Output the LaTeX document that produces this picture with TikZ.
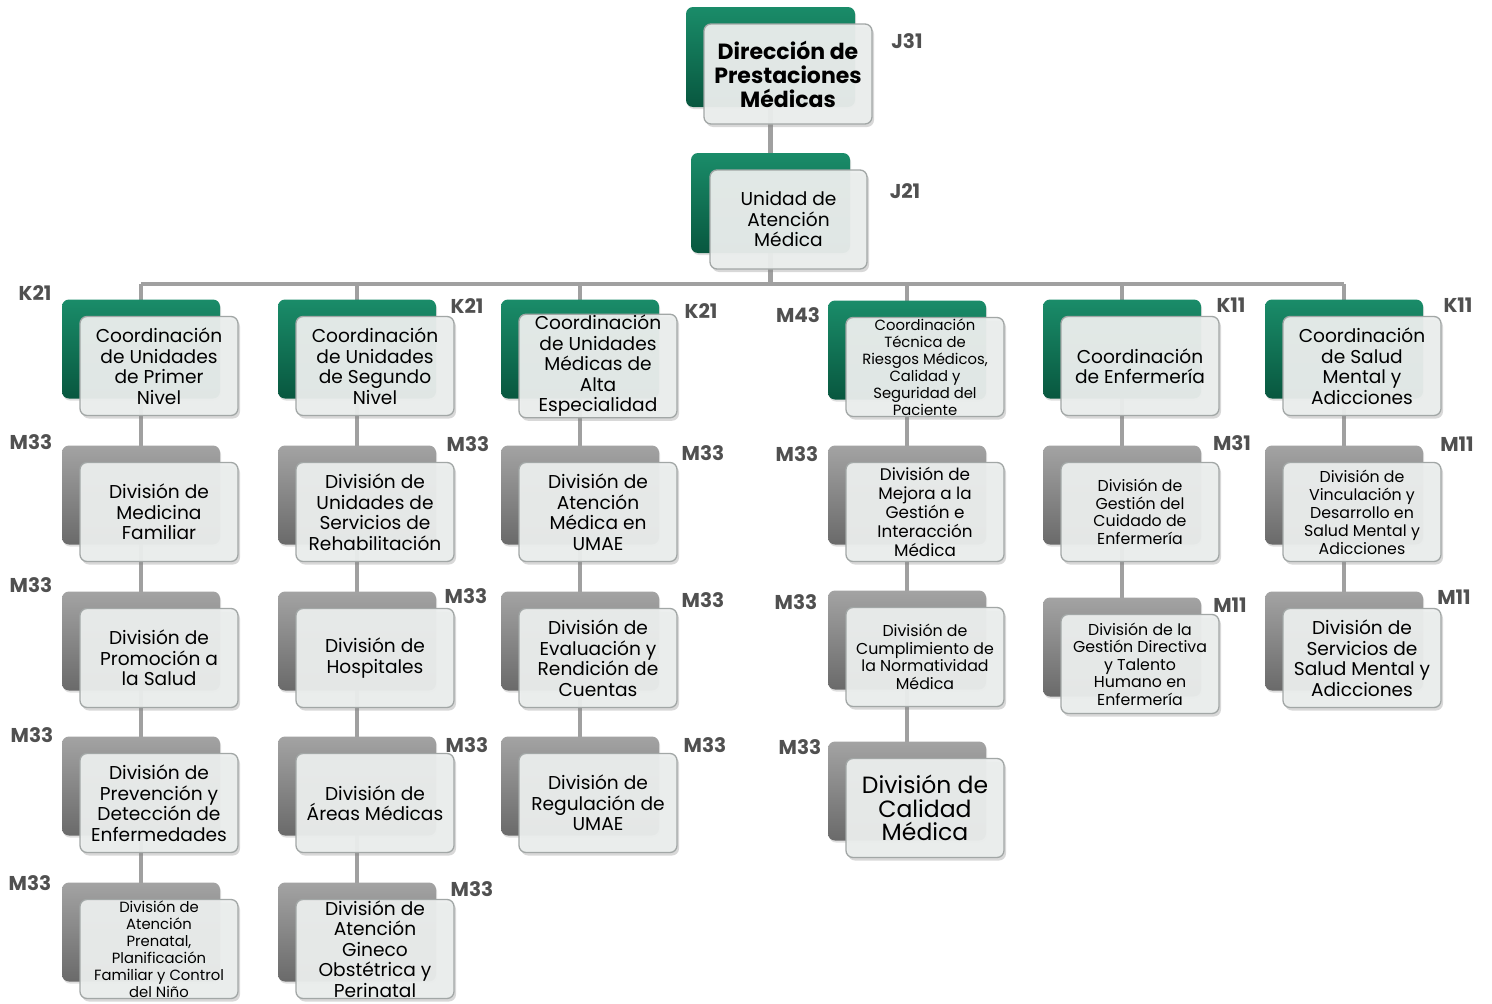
\documentclass[tikz,border=0pt]{standalone}
\usepackage{fontspec}
\setmainfont{Poppins}
\usetikzlibrary{shadows}
\pgfdeclarelayer{background}
\pgfsetlayers{background,main}
\definecolor{gA}{HTML}{1A8C69}
\definecolor{gB}{HTML}{08573F}
\definecolor{kA}{HTML}{A3A3A3}
\definecolor{kB}{HTML}{6A6A6A}
\definecolor{frontfill}{HTML}{ECEFEE}
\definecolor{fborder}{HTML}{A2A7A6}
\definecolor{conncol}{HTML}{A0A0A0}
\definecolor{lblcol}{HTML}{505050}
\tikzset{
  backgreen/.style={rounded corners=7pt, minimum width=158pt, minimum height=99pt, top color=gA, bottom color=gB, draw=none, inner sep=0pt,
     drop shadow={shadow xshift=1pt, shadow yshift=-2pt, opacity=0.25}},
  backgray/.style={rounded corners=7pt, minimum width=158pt, minimum height=99pt, top color=kA, bottom color=kB, draw=none, inner sep=0pt,
     drop shadow={shadow xshift=1pt, shadow yshift=-2pt, opacity=0.25}},
  frontbox/.style={rounded corners=7pt, minimum width=158pt, minimum height=99pt, fill=frontfill, fill opacity=0.94, text opacity=1,
     draw=fborder, line width=1.3pt, align=center, inner sep=1pt, text=black,
     drop shadow={shadow xshift=2pt, shadow yshift=-3pt, opacity=0.3}},
  conn/.style={draw=conncol, line width=4.5pt},
  lbl/.style={text=lblcol, font=\fontsize{20}{22}\selectfont\bfseries, inner sep=0pt},
}
\newcommand\orgbox[6]{%
  \node[#4] (#1b) at (#2,#3) {};
  \node[frontbox, font=#5] (#1) at ({#2+18},{#3+17}) {#6};
}
\newcommand\fA{\fontsize{18.6}{20.5}\selectfont}
\newcommand\fS{\fontsize{14.8}{17}\selectfont}
\newcommand\fM{\fontsize{15.8}{17.5}\selectfont}
\begin{document}
\begin{tikzpicture}[x=1pt,y=-1pt]
\useasboundingbox (0,0) rectangle (1492,1004);

% top
\node[backgreen, minimum width=169pt, minimum height=100pt] (j31b) at (770.5,57) {};
\node[frontbox, minimum width=168pt, minimum height=100pt, font=\fontsize{22}{24}\selectfont\bfseries] (j31) at (788,74) {Dirección de\\Prestaciones\\Médicas};
\node[backgreen, minimum width=159pt, minimum height=100pt] (j21b) at (770.5,203) {};
\node[frontbox, minimum width=157pt, minimum height=99pt, font=\fA] (j21) at (788.5,219.5) {Unidad de\\Atención\\Médica};

% column 1
\orgbox{c1}{141}{349}{backgreen}{\fA}{Coordinación\\de Unidades\\de Primer\\Nivel}
\orgbox{d11}{141}{495}{backgray}{\fA}{División de\\Medicina\\Familiar}
\orgbox{d12}{141}{641}{backgray}{\fA}{División de\\Promoción a\\la Salud}
\orgbox{d13}{141}{786}{backgray}{\fA}{División de\\Prevención y\\Detección de\\Enfermedades}
\orgbox{d14}{141}{932}{backgray}{\fS}{División de\\Atención\\Prenatal,\\Planificación\\Familiar y Control\\del Niño}

% column 2
\orgbox{c2}{357}{349}{backgreen}{\fA}{Coordinación\\de Unidades\\de Segundo\\Nivel}
\orgbox{d21}{357}{495}{backgray}{\fA}{División de\\Unidades de\\Servicios de\\Rehabilitación}
\orgbox{d22}{357}{641}{backgray}{\fA}{División de\\Hospitales}
\orgbox{d23}{357}{786}{backgray}{\fA}{División de\\Áreas Médicas}
\orgbox{d24}{357}{932}{backgray}{\fA}{División de\\Atención\\Gineco\\Obstétrica y\\Perinatal}

% column 3
\orgbox{c3}{580}{349}{backgreen}{\fA}{Coordinación\\de Unidades\\Médicas de\\Alta\\Especialidad}
\orgbox{d31}{580}{495}{backgray}{\fA}{División de\\Atención\\Médica en\\UMAE}
\orgbox{d32}{580}{641}{backgray}{\fA}{División de\\Evaluación y\\Rendición de\\Cuentas}
\orgbox{d33}{580}{786}{backgray}{\fA}{División de\\Regulación de\\UMAE}

% column 4
\orgbox{c4}{907}{350}{backgreen}{\fS}{Coordinación\\Técnica de\\Riesgos Médicos,\\Calidad y\\Seguridad del\\Paciente}
\orgbox{d41}{907}{495}{backgray}{\fontsize{16.8}{19}\selectfont}{División de\\Mejora a la\\Gestión e\\Interacción\\Médica}
\orgbox{d42}{907}{640}{backgray}{\fM}{División de\\Cumplimiento de\\la Normatividad\\Médica}
\orgbox{d43}{907}{791}{backgray}{\fontsize{23.5}{23.5}\selectfont}{División de\\Calidad\\Médica}

% column 5
\orgbox{c5}{1122}{349}{backgreen}{\fA}{Coordinación\\de Enfermería}
\orgbox{d51}{1122}{495}{backgray}{\fM}{División de\\Gestión del\\Cuidado de\\Enfermería}
\orgbox{d52}{1122}{647}{backgray}{\fM}{División de la\\Gestión Directiva\\y Talento\\Humano en\\Enfermería}

% column 6
\orgbox{c6}{1344}{349}{backgreen}{\fA}{Coordinación\\de Salud\\Mental y\\Adicciones}
\orgbox{d61}{1344}{495}{backgray}{\fontsize{15.8}{18}\selectfont}{División de\\Vinculación y\\Desarrollo en\\Salud Mental y\\Adicciones}
\orgbox{d62}{1344}{641}{backgray}{\fA}{División de\\Servicios de\\Salud Mental y\\Adicciones}

% connectors
\coordinate (bus) at (770.5,284);
\begin{pgfonlayer}{background}
\fill[white] (0,0) rectangle (1492,1004);
\draw[conn] (j31b.center) -- (j21b.center) -- (bus);
\draw[conn] (c1b.center |- bus) -- (c6b.center |- bus);
\draw[conn] (c1b.center |- bus) -- (c1b.center) -- (d11b.center) -- (d12b.center) -- (d13b.center) -- (d14b.center);
\draw[conn] (c2b.center |- bus) -- (c2b.center) -- (d21b.center) -- (d22b.center) -- (d23b.center) -- (d24b.center);
\draw[conn] (c3b.center |- bus) -- (c3b.center) -- (d31b.center) -- (d32b.center) -- (d33b.center);
\draw[conn] (c4b.center |- bus) -- (c4b.center) -- (d41b.center) -- (d42b.center) -- (d43b.center);
\draw[conn] (c5b.center |- bus) -- (c5b.center) -- (d51b.center) -- (d52b.center);
\draw[conn] (c6b.center |- bus) -- (c6b.center) -- (d61b.center) -- (d62b.center);
\end{pgfonlayer}

% labels
\node[lbl] (lj31) at (907,41) {J31};
\node[lbl] (lj21) at (905,191) {J21};
\node[lbl] (lc1) at (35,293) {K21};
\node[lbl] (lc2) at (467,306) {K21};
\node[lbl] (lc3) at (701,311) {K21};
\node[lbl] (lc4) at (798,315) {M43};
\node[lbl] (lc5) at (1231,305) {K11};
\node[lbl] (lc6) at (1458,305) {K11};
\node[lbl] (l11) at (31,442) {M33};
\node[lbl] (l12) at (31,585) {M33};
\node[lbl] (l13) at (32,735) {M33};
\node[lbl] (l14) at (30,883) {M33};
\node[lbl] (l21) at (468,444) {M33};
\node[lbl] (l22) at (466,596) {M33};
\node[lbl] (l23) at (467,745) {M33};
\node[lbl] (l24) at (472,889) {M33};
\node[lbl] (l31) at (703,453) {M33};
\node[lbl] (l32) at (703,600) {M33};
\node[lbl] (l33) at (705,745) {M33};
\node[lbl] (l41) at (797,454) {M33};
\node[lbl] (l42) at (796,602) {M33};
\node[lbl] (l43) at (800,747) {M33};
\node[lbl] (l51) at (1232,443) {M31};
\node[lbl] (l52) at (1230,605) {M11};
\node[lbl] (l61) at (1457,444) {M11};
\node[lbl] (l62) at (1454,597) {M11};
\end{tikzpicture}
\end{document}
